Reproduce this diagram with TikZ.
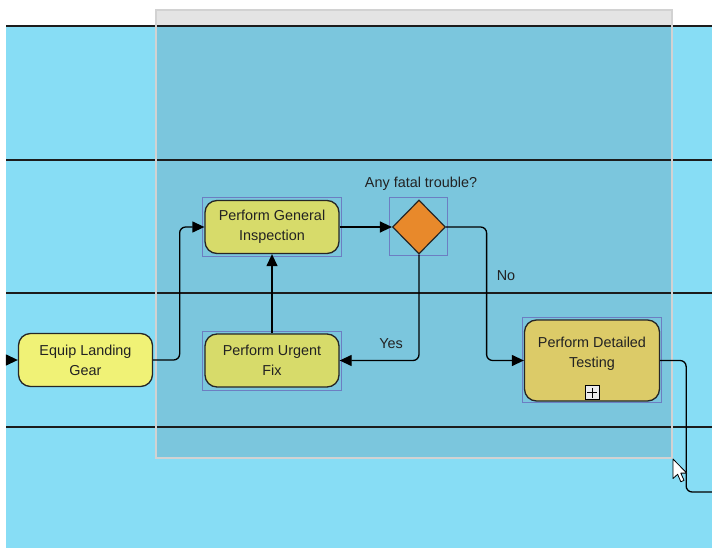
\documentclass[tikz,border=0pt]{standalone}
\usepackage{fontspec}
\setmainfont{Liberation Sans}
\usetikzlibrary{arrows.meta,shapes.geometric}
\definecolor{lane}{HTML}{87DDF5}
\definecolor{ovlc}{HTML}{7BC6DD}
\definecolor{barc}{HTML}{E4E4E4}
\definecolor{framec}{HTML}{D2D2D2}
\definecolor{lanel}{HTML}{1C1C1C}
\definecolor{nodeline}{HTML}{262626}
\definecolor{textc}{HTML}{222222}
\definecolor{equipc}{HTML}{F0F276}
\definecolor{taskc}{HTML}{D7DB6A}
\definecolor{detc}{HTML}{DCCB68}
\definecolor{gwc}{HTML}{E8892B}
\definecolor{selc}{HTML}{6C7EC2}
\begin{document}
\begin{tikzpicture}[x=1pt,y=-1pt,
  txt/.style={font=\fontsize{14.4}{20}\selectfont, text=textc, align=center},
  task/.style={txt, draw=nodeline, line width=1.3pt, rounded corners=12pt,
    minimum width=134pt, minimum height=53pt, inner sep=0pt},
  gateway/.style={diamond, draw=nodeline, line width=1.2pt, fill=gwc,
    minimum width=53pt, minimum height=54pt, inner sep=0pt},
  sel/.style={draw=selc, line width=0.9pt},
  conn/.style={draw=black, line width=1.3pt, rounded corners=6pt},
  arr/.style={conn, -{Triangle[length=12pt,width=11pt]}},
  laneline/.style={draw=lanel, line width=1.6pt}]
\useasboundingbox (0,0) rectangle (712,548);
% background
\fill[white] (0,0) rectangle (712,548);
\fill[lane] (6,26) rectangle (712,548);
% selection overlay
\fill[ovlc] (156,26) rectangle (672,458);
\fill[barc] (156,10) rectangle (672,26);
% lane lines
\foreach \yy in {26,160,293,427} \draw[laneline] (6,\yy) -- (712,\yy);
% frame border
\draw[framec, line width=1.3pt] (156,10) rectangle (672,458);

% nodes
\node[task, fill=equipc] (equip) at (85.5,360) {Equip Landing\\Gear};
\node[task, fill=taskc] (general) at (272,227) {Perform General\\Inspection};
\node[task, fill=taskc] (urgent) at (272,360.5) {Perform Urgent\\Fix};
\node[gateway] (gw) at (419,227) {};
\node[txt] (gwlabel) at (421,184) {Any fatal trouble?};
\node[task, fill=detc, minimum width=135pt, minimum height=81pt,
  label={[txt, yshift=7pt]center:{Perform Detailed\\Testing}}] (detailed) at (592,360.5) {};
\node[draw=black, line width=0.9pt, fill=white!92!black, minimum size=14pt, inner sep=0pt]
  (marker) at ([yshift=9pt]detailed.south) {};
\draw[black, line width=1pt] ([xshift=-5pt]marker.center) -- ([xshift=5pt]marker.center);
\draw[black, line width=1pt] ([yshift=-5pt]marker.center) -- ([yshift=5pt]marker.center);

% selection boxes
\draw[sel] (202,197) rectangle (341.5,256);
\draw[sel] (202,331) rectangle (341.5,390);
\draw[sel] (389,197) rectangle (447,255);
\draw[sel] (522.5,317.5) rectangle (661,402.5);

% connectors
\coordinate (start) at (6,360);
\coordinate (exit) at (712,492);
\draw[arr] (start) -- (equip.west);
\draw[arr] (equip.east) -- ++(26.5,0) |- (general.west);
\draw[arr] (general.east) -- (gw.west);
\draw[arr] (gw.south) |- (urgent.east);
\draw[arr] (gw.east) -- ++(40.5,0) |- (detailed.west);
\draw[arr] (urgent.north) -- (general.south);
\draw[conn] (detailed.east) -- ++(26,0) |- (exit);

% labels
\node[txt] (yes) at (391,344) {Yes};
\node[txt] (no) at (506,276) {No};

% cursor
\draw[black, fill=white, line width=0.8pt, line join=round, shift={(673,459)}, scale=1.15]
  (0,0) -- (0,17) -- (4,13.3) -- (6.8,19.8) -- (9.6,18.6) -- (6.8,12.3) -- (12,12.3) -- cycle;
\end{tikzpicture}
\end{document}
